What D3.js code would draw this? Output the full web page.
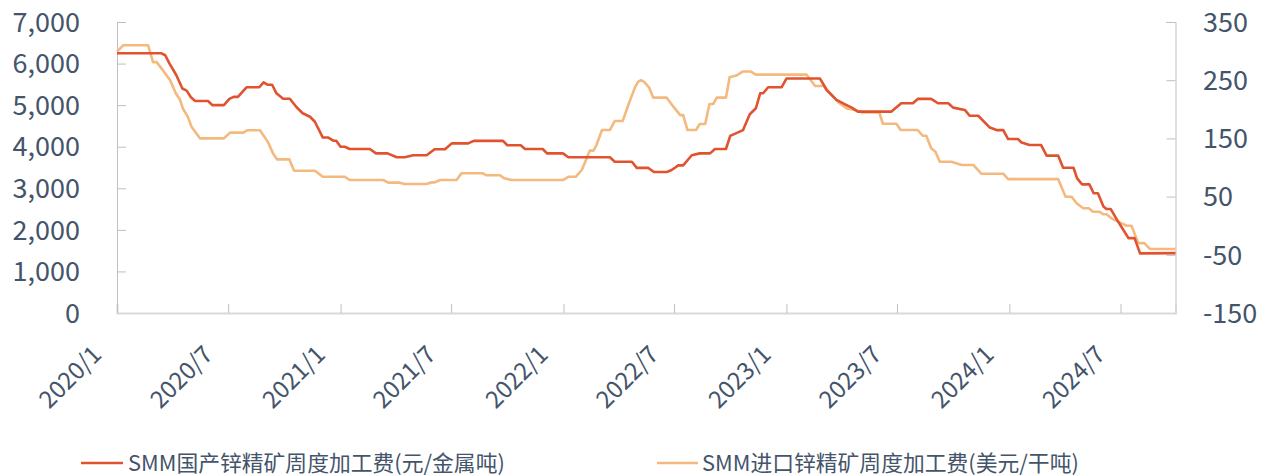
<!DOCTYPE html>
<html>
<head>
<meta charset="utf-8">
<script src="https://cdn.jsdelivr.net/npm/d3@7"></script>
<style>
  html, body { margin: 0; padding: 0; background: #fff; }
  svg { display: block; }
  text { font-family: "Noto Sans CJK SC", "Noto Sans", sans-serif; fill: #44546A; }
</style>
</head>
<body>
<svg id="chart" width="1271" height="476"></svg>
<script>
// ---------- data ----------
const seriesNames = ["SMM国产锌精矿周度加工费(元/金属吨)", "SMM进口锌精矿周度加工费(美元/干吨)"];

const domesticDates = [
  "2020-01-01","2020-03-13","2020-03-20","2020-03-27","2020-04-07","2020-04-17","2020-04-24","2020-05-01","2020-05-08",
  "2020-05-29","2020-06-05","2020-06-24","2020-07-03","2020-07-10","2020-07-17","2020-07-31","2020-08-21","2020-08-28",
  "2020-09-04","2020-09-11","2020-09-18","2020-09-29","2020-10-10","2020-10-21","2020-10-31","2020-11-12","2020-11-20",
  "2020-12-03","2020-12-12","2020-12-20","2020-12-25","2021-01-01","2021-01-08","2021-01-16","2021-02-18","2021-02-28",
  "2021-03-19","2021-04-03","2021-04-16","2021-04-30","2021-05-22","2021-06-04","2021-06-21","2021-07-02","2021-07-29",
  "2021-08-07","2021-09-24","2021-10-01","2021-10-23","2021-10-30","2021-11-28","2021-12-05","2021-12-31","2022-01-09",
  "2022-03-18","2022-03-26","2022-04-23","2022-05-01","2022-05-20","2022-05-29","2022-06-19","2022-06-27","2022-07-08",
  "2022-07-16","2022-07-30","2022-08-12","2022-08-29","2022-09-06","2022-09-24","2022-10-01","2022-10-22","2022-11-02",
  "2022-11-12","2022-11-19","2022-11-24","2022-12-02","2022-12-24","2023-01-01","2023-02-25","2023-03-08","2023-03-24",
  "2023-04-07","2023-04-18","2023-04-28","2023-06-22","2023-07-08","2023-07-27","2023-08-04","2023-08-26","2023-09-06",
  "2023-09-23","2023-10-01","2023-10-20","2023-10-28","2023-11-11","2023-11-30","2023-12-11","2023-12-22","2023-12-30",
  "2024-01-15","2024-01-21","2024-02-03","2024-02-22","2024-03-02","2024-03-21","2024-03-29","2024-04-15","2024-04-21",
  "2024-04-29","2024-05-11","2024-05-18","2024-05-25","2024-06-03","2024-06-08","2024-06-15","2024-06-27","2024-07-14",
  "2024-07-24","2024-08-02","2024-09-29"
];
const domesticValues = [
  6250,6250,6200,6000,5725,5400,5350,5190,5100,
  5100,5000,5000,5150,5200,5200,5430,5430,5550,
  5490,5490,5285,5155,5155,4950,4805,4720,4600,
  4220,4220,4145,4145,4000,4000,3945,3945,3840,
  3840,3745,3745,3795,3795,3940,3940,4080,4080,
  4140,4140,4035,4035,3945,3945,3840,3840,3745,
  3745,3640,3640,3490,3490,3390,3390,3440,3550,
  3550,3795,3840,3840,3945,3945,4260,4400,4780,
  4925,5285,5285,5430,5430,5640,5640,5365,5125,
  5020,4940,4845,4845,5045,5045,5150,5150,5045,
  5045,4940,4885,4745,4745,4460,4400,4400,4185,
  4185,4100,4040,4040,3785,3785,3495,3495,3240,
  3095,3095,2880,2880,2560,2500,2500,2200,1800,
  1800,1435,1440
];

const importDates = [
  "2020-01-01","2020-01-11","2020-02-21","2020-02-29","2020-03-06","2020-03-17","2020-03-28","2020-04-06","2020-04-13",
  "2020-04-18","2020-04-26","2020-05-02","2020-05-16","2020-06-24","2020-07-04","2020-07-26","2020-08-01","2020-08-22",
  "2020-09-04","2020-09-13","2020-09-19","2020-10-09","2020-10-17","2020-11-20","2020-12-03","2021-01-08","2021-01-16",
  "2021-03-12","2021-03-20","2021-04-08","2021-04-16","2021-05-22","2021-05-30","2021-06-04","2021-06-13","2021-07-10",
  "2021-07-18","2021-08-22","2021-08-28","2021-09-19","2021-09-26","2021-10-08","2021-12-31","2022-01-09","2022-01-21",
  "2022-01-31","2022-02-08","2022-02-13","2022-02-19","2022-02-24","2022-03-05","2022-03-18","2022-03-26","2022-04-08",
  "2022-04-17","2022-04-28","2022-05-03","2022-05-08","2022-05-13","2022-05-21","2022-05-28","2022-06-19","2022-06-30",
  "2022-07-11","2022-07-16","2022-07-23","2022-08-06","2022-08-12","2022-08-21","2022-08-28","2022-09-03","2022-09-09",
  "2022-09-24","2022-09-30","2022-10-11","2022-10-22","2022-11-03","2022-11-12","2023-02-03","2023-02-17","2023-03-03",
  "2023-03-11","2023-03-27","2023-04-10","2023-04-23","2023-05-04","2023-06-02","2023-06-08","2023-06-30","2023-07-07",
  "2023-08-04","2023-08-12","2023-08-18","2023-08-26","2023-09-02","2023-09-09","2023-09-28","2023-10-15","2023-11-03",
  "2023-11-16","2023-12-22","2023-12-30","2024-03-21","2024-04-02","2024-04-12","2024-04-20","2024-05-01","2024-05-10",
  "2024-05-17","2024-05-27","2024-06-03","2024-06-08","2024-06-16","2024-06-27","2024-07-11","2024-07-19","2024-07-30",
  "2024-08-09","2024-08-18","2024-09-29"
];
const importValues = [
  299,310,310,281,281,266,250,228,217,
  201,187,170,150,150,160,160,164,164,
  144,123,114,114,94.5,94.5,84,84,78.5,
  78.5,74,74,71.6,71.6,74.5,74.5,78.5,78.5,
  90,90,86.6,86.6,81.4,78.5,78.5,84,84,
  95.7,115.8,129,129,138.6,164.4,164.4,180,180,
  207,237.7,247,250,247,237.7,220,220,204.5,
  190,190,164.4,164.4,174.7,174.7,209,209,220,
  220,255,258,265,265,259.5,259.5,240,240,
  230,212,201.6,198.8,194.8,194.8,175.2,175.2,164.4,
  164.4,154.6,154.6,133,127,110,110,104.3,104.3,
  89.3,89.3,80,80,49.8,49.8,38.5,29.9,29.9,
  24,24,19.6,19.6,12.7,6.9,0,0,-30,
  -30,-40,-40
];

const leftTicks = [0,1000,2000,3000,4000,5000,6000,7000];
const rightTicks = [-150,-50,50,150,250,350];
const xTickDates = ["2020-01-01","2020-07-01","2021-01-01","2021-07-01","2022-01-01","2022-07-01","2023-01-01","2023-07-01","2024-01-01","2024-07-01"];
const xDomain = ["2020-01-01","2024-09-29"];

// ---------- layout ----------
const parse = d3.timeParse("%Y-%m-%d");
const svg = d3.select("#chart");
const L = 117, R = 1175.5, T = 22, B = 313;

const x = d3.scaleTime().domain(xDomain.map(parse)).range([L, R]);
const yL = d3.scaleLinear().domain([0, 7000]).range([B, T]);
const yR = d3.scaleLinear().domain([-150, 350]).range([B, T]);

const axisColor = "#BFBFBF";

// left axis
const gL = svg.append("g").attr("transform", `translate(${L},0)`)
  .call(d3.axisRight(yL).tickValues(leftTicks).tickSize(9).tickFormat(""));
gL.select(".domain").attr("stroke", axisColor);
gL.selectAll(".tick line").attr("stroke", axisColor);
svg.append("g").selectAll("text").data(leftTicks).join("text")
  .attr("x", 80).attr("y", d => yL(d)).attr("dy", "0.36em")
  .attr("text-anchor", "end").style("font-size", "27px")
  .text(d => d3.format(",")(d));

// right axis
const gR = svg.append("g").attr("transform", `translate(${R},0)`)
  .call(d3.axisLeft(yR).tickValues(rightTicks).tickSize(9).tickFormat(""));
gR.select(".domain").attr("stroke", axisColor);
gR.selectAll(".tick line").attr("stroke", axisColor);
svg.append("g").selectAll("text").data(rightTicks).join("text")
  .attr("x", 1203).attr("y", d => yR(d)).attr("dy", "0.36em")
  .attr("text-anchor", "start").style("font-size", "27px")
  .text(d => d);

// bottom axis
const gB = svg.append("g").attr("transform", `translate(0,${B})`)
  .call(d3.axisTop(x).tickValues(xTickDates.map(parse)).tickSize(9).tickFormat(""));
gB.select(".domain").attr("stroke", "#D9D9D9").attr("stroke-width", 2);
gB.selectAll(".tick line").attr("stroke", axisColor);
const fmt = d3.timeFormat("%Y/%-m");
svg.append("g").selectAll("text").data(xTickDates.map(parse)).join("text")
  .attr("text-anchor", "end")
  .attr("transform", d => `translate(${x(d) - 14},${B + 43}) rotate(-45)`)
  .style("font-size", "24px")
  .text(d => fmt(d));

// lines
const domestic = domesticDates.map((d, i) => ({ date: parse(d), value: domesticValues[i] }));
const imported = importDates.map((d, i) => ({ date: parse(d), value: importValues[i] }));

svg.append("path").datum(imported)
  .attr("fill", "none").attr("stroke", "#F4B97E").attr("stroke-width", 2.6)
  .attr("stroke-linejoin", "round")
  .attr("d", d3.line().x(d => x(d.date)).y(d => yR(d.value)));
svg.append("path").datum(domestic)
  .attr("fill", "none").attr("stroke", "#E1532F").attr("stroke-width", 2.6)
  .attr("stroke-linejoin", "round")
  .attr("d", d3.line().x(d => x(d.date)).y(d => yL(d.value)));

// legend
const legendItems = [
  { name: seriesNames[0], color: "#E1532F", x1: 81, x2: 123, tx: 128 },
  { name: seriesNames[1], color: "#F4B97E", x1: 657, x2: 698, tx: 702 }
];
const lg = svg.append("g");
legendItems.forEach(it => {
  lg.append("line").attr("x1", it.x1).attr("x2", it.x2).attr("y1", 463).attr("y2", 463)
    .attr("stroke", it.color).attr("stroke-width", 2.6);
  lg.append("text").attr("x", it.tx).attr("y", 463).attr("dy", "0.36em")
    .style("font-size", "21.8px").text(it.name);
});
</script>
</body>
</html>
